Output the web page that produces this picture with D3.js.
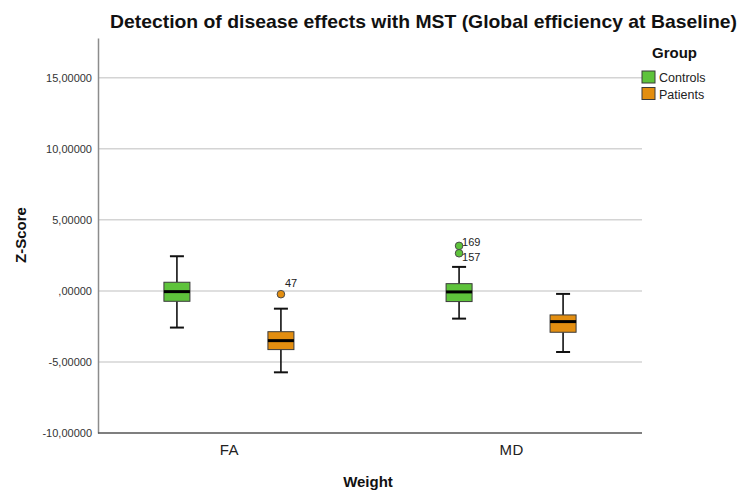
<!DOCTYPE html>
<html>
<head>
<meta charset="utf-8">
<script src="https://cdn.jsdelivr.net/npm/d3@7"></script>
<style>
  html, body { margin: 0; padding: 0; background: #fff; }
  svg { display: block; font-family: "Liberation Sans", Arial, sans-serif; }
</style>
</head>
<body>
<svg id="chart" width="744" height="494"></svg>
<script>
// Box-plot summaries, one entry per (weight, group) pair in this order
const categories = ["FA", "MD"];
const groups = ["Controls", "Patients"];
const boxCategory = ["FA", "FA", "MD", "MD"];
const boxGroup = ["Controls", "Patients", "Controls", "Patients"];
const whiskerHigh = [2.44, -1.25, 1.69, -0.21];
const q3 = [0.61, -2.87, 0.51, -1.69];
const median = [-0.05, -3.50, -0.07, -2.16];
const q1 = [-0.73, -4.13, -0.75, -2.91];
const whiskerLow = [-2.58, -5.73, -1.95, -4.30];

// Outlying cases with their case numbers
const outlierCategory = ["FA", "MD", "MD"];
const outlierGroup = ["Patients", "Controls", "Controls"];
const outlierValue = [-0.23, 3.17, 2.65];
const outlierCase = ["47", "169", "157"];

// Y axis ticks
const yTickValues = [-10, -5, 0, 5, 10, 15];
const yTickLabels = ["-10,00000", "-5,00000", ",00000", "5,00000", "10,00000", "15,00000"];

const groupColor = { Controls: "#5ec33b", Patients: "#e38e10" };
const labelShift = { "47": [4, -7], "169": [3, 0], "157": [3, 8] };

const svg = d3.select("#chart");
const plot = { left: 98, right: 642, top: 38, bottom: 433 };

const x = d3.scalePoint().domain(categories).range([plot.left, plot.right]).padding(0.464);
const xGroup = d3.scaleBand().domain(groups).range([-104, 104]);
const y = d3.scaleLinear().domain([-10, 17.8]).range([plot.bottom, plot.top]);

const boxW = 26, capW = 14;
const cx = (c, g) => x(c) + xGroup(g) + xGroup.bandwidth() / 2;

// Horizontal grid lines
svg.append("g")
  .selectAll("line")
  .data(yTickValues.filter(v => v !== -10))
  .join("line")
  .attr("x1", plot.left).attr("x2", plot.right)
  .attr("y1", d => y(d)).attr("y2", d => y(d))
  .attr("stroke", "#d4d4d4").attr("stroke-width", 1.5);

// Y axis
const yAxis = d3.axisLeft(y)
  .tickValues(yTickValues)
  .tickSize(0)
  .tickPadding(6)
  .tickFormat((d, i) => yTickLabels[i]);
const gy = svg.append("g").attr("transform", `translate(${plot.left},0)`).call(yAxis);
gy.select(".domain").attr("stroke", "#8c8c8c").attr("stroke-width", 1.5);
gy.selectAll("text").attr("font-size", 11).attr("fill", "#333")
  .attr("font-family", "Liberation Sans, Arial, sans-serif");

// X axis
const xAxis = d3.axisBottom(x).tickSize(0).tickPadding(11);
const gx = svg.append("g").attr("transform", `translate(0,${plot.bottom})`).call(xAxis);
gx.select(".domain").attr("d", `M${plot.left},0H${plot.right}`)
  .attr("stroke", "#555").attr("stroke-width", 1.5);
gx.selectAll("text").attr("font-size", 15).attr("fill", "#222")
  .attr("letter-spacing", "0.5px")
  .attr("font-family", "Liberation Sans, Arial, sans-serif");

// Boxes
const boxes = boxCategory.map((c, i) => ({
  c, g: boxGroup[i], hi: whiskerHigh[i], q3: q3[i], med: median[i], q1: q1[i], lo: whiskerLow[i]
}));
const bg = svg.append("g").selectAll("g").data(boxes).join("g")
  .attr("transform", d => `translate(${cx(d.c, d.g)},0)`);

bg.append("line").attr("x1", 0).attr("x2", 0)
  .attr("y1", d => y(d.hi)).attr("y2", d => y(d.q3))
  .attr("stroke", "#111").attr("stroke-width", 1.6);
bg.append("line").attr("x1", 0).attr("x2", 0)
  .attr("y1", d => y(d.q1)).attr("y2", d => y(d.lo))
  .attr("stroke", "#111").attr("stroke-width", 1.6);
bg.append("line").attr("x1", -capW / 2).attr("x2", capW / 2)
  .attr("y1", d => y(d.hi)).attr("y2", d => y(d.hi))
  .attr("stroke", "#111").attr("stroke-width", 2);
bg.append("line").attr("x1", -capW / 2).attr("x2", capW / 2)
  .attr("y1", d => y(d.lo)).attr("y2", d => y(d.lo))
  .attr("stroke", "#111").attr("stroke-width", 2);
bg.append("rect")
  .attr("x", -boxW / 2).attr("width", boxW)
  .attr("y", d => y(d.q3)).attr("height", d => y(d.q1) - y(d.q3))
  .attr("fill", d => groupColor[d.g]).attr("stroke", "#3a3a3a").attr("stroke-width", 1);
bg.append("line").attr("x1", -boxW / 2).attr("x2", boxW / 2)
  .attr("y1", d => y(d.med)).attr("y2", d => y(d.med))
  .attr("stroke", "#000").attr("stroke-width", 3);

// Outliers
const outliers = outlierValue.map((v, i) => ({
  c: outlierCategory[i], g: outlierGroup[i], v, id: outlierCase[i]
}));
const og = svg.append("g");
og.selectAll("circle").data(outliers).join("circle")
  .attr("cx", d => cx(d.c, d.g)).attr("cy", d => y(d.v)).attr("r", 3.8)
  .attr("fill", d => groupColor[d.g]).attr("stroke", "#4a4a4a").attr("stroke-width", 1);
og.selectAll("text").data(outliers).join("text")
  .attr("x", d => cx(d.c, d.g) + labelShift[d.id][0])
  .attr("y", d => y(d.v) + labelShift[d.id][1])
  .attr("font-size", 11).attr("fill", "#222")
  .text(d => d.id);

// Titles
svg.append("text").attr("x", 110).attr("y", 27.5)
  .attr("textLength", 627).attr("lengthAdjust", "spacingAndGlyphs")
  .attr("font-size", 18.5).attr("font-weight", "bold").attr("fill", "#111")
  .text("Detection of disease effects with MST (Global efficiency at Baseline)");
svg.append("text").attr("x", 368).attr("y", 487).attr("text-anchor", "middle")
  .attr("font-size", 15).attr("font-weight", "bold").attr("fill", "#111")
  .text("Weight");
svg.append("text").attr("transform", "translate(26,235) rotate(-90)").attr("text-anchor", "middle")
  .attr("font-size", 15).attr("font-weight", "bold").attr("fill", "#111")
  .text("Z-Score");

// Legend
const lg = svg.append("g");
lg.append("text").attr("x", 652).attr("y", 58)
  .attr("font-size", 15).attr("font-weight", "bold").attr("fill", "#111").text("Group");
const li = lg.selectAll("g.item").data(groups).join("g").attr("class", "item")
  .attr("transform", (d, i) => `translate(642,${71 + i * 16.5})`);
li.append("rect").attr("width", 13).attr("height", 12)
  .attr("fill", d => groupColor[d]).attr("stroke", "#3a3a3a").attr("stroke-width", 1);
li.append("text").attr("x", 17).attr("y", 11)
  .attr("font-size", 12.5).attr("fill", "#222").text(d => d);
</script>
</body>
</html>
